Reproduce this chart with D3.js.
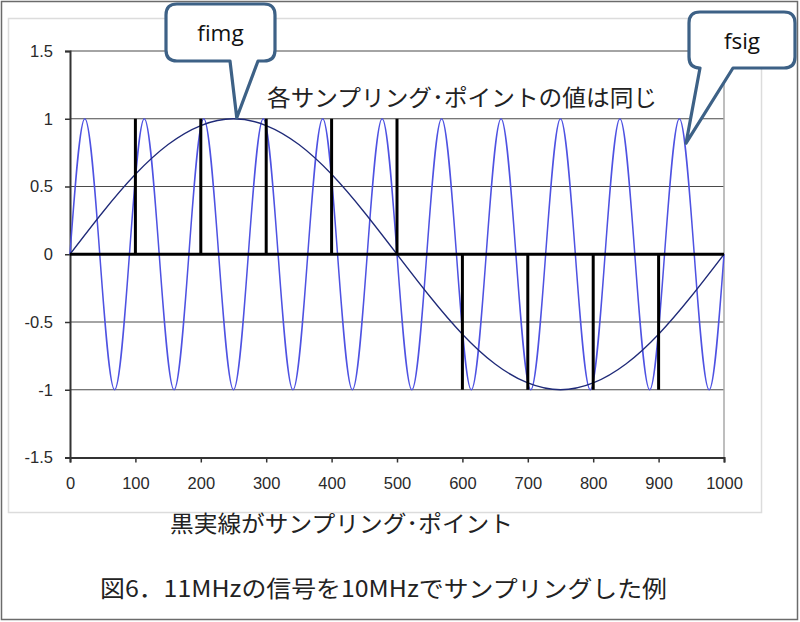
<!DOCTYPE html>
<html>
<head>
<meta charset="utf-8">
<script src="https://cdn.jsdelivr.net/npm/d3@7"></script>
<style>
  body { margin: 0; background: #fff; }
  svg { display: block; }
</style>
</head>
<body>
<div id="chart"></div>
<script>
// values
const yTicks = [-1.5, -1, -0.5, 0, 0.5, 1, 1.5];
const xTicks = [0, 100, 200, 300, 400, 500, 600, 700, 800, 900, 1000];

// fimg: slow wave, one cycle over 0..1000
const fimgX = [0, 50, 100, 150, 200, 250, 300, 350, 400, 450, 500, 550, 600, 650, 700, 750, 800, 850, 900, 950, 1000];
const fimgY = [0, 0.31, 0.59, 0.81, 0.95, 1, 0.95, 0.81, 0.59, 0.31, 0, -0.31, -0.59, -0.81, -0.95, -1, -0.95, -0.81, -0.59, -0.31, 0];

// fsig: peaks, troughs and zero crossings
const fsigX = [0, 22.7, 45.5, 68.2, 90.9, 113.6, 136.4, 159.1, 181.8, 204.5, 227.3, 250, 272.7, 295.5, 318.2,
  340.9, 363.6, 386.4, 409.1, 431.8, 454.5, 477.3, 500, 522.7, 545.5, 568.2, 590.9, 613.6, 636.4, 659.1,
  681.8, 704.5, 727.3, 750, 772.7, 795.5, 818.2, 840.9, 863.6, 886.4, 909.1, 931.8, 954.5, 977.3, 1000];
const fsigY = [0, 1, 0, -1, 0, 1, 0, -1, 0, 1, 0, -1, 0, 1, 0, -1, 0, 1, 0, -1, 0, 1, 0,
  -1, 0, 1, 0, -1, 0, 1, 0, -1, 0, 1, 0, -1, 0, 1, 0, -1, 0, 1, 0, -1, 0];

// sampling points (black bars)
const sampleX = [100, 200, 300, 400, 500, 600, 700, 800, 900];
const sampleY = [1, 1, 1, 1, 1, -1, -1, -1, -1];

const width = 800, height = 622;
const svg = d3.select("#chart").append("svg")
    .attr("width", width)
    .attr("height", height);

// outer frame + inner chart frame
svg.append("rect").attr("x", 1.5).attr("y", 1.5).attr("width", 796).attr("height", 618)
    .attr("fill", "#fff").attr("stroke", "#6b6b6b").attr("stroke-width", 1.5);
svg.append("rect").attr("x", 8.5).attr("y", 18.5).attr("width", 753).attr("height", 494)
    .attr("fill", "#fff").attr("stroke", "#dcdcdc").attr("stroke-width", 1.5);

const x = d3.scaleLinear().domain([0, 1000]).range([70, 724]);
const y = d3.scaleLinear().domain([-1.5, 1.5]).range([457.5, 51]);

// grid lines
svg.append("g").selectAll("line")
    .data(yTicks)
    .enter().append("line")
    .attr("x1", x(0)).attr("x2", x(1000))
    .attr("y1", d => y(d)).attr("y2", d => y(d))
    .attr("stroke", "#4a4a4a").attr("stroke-width", 1.2);

svg.append("line")
    .attr("x1", x(1000)).attr("x2", x(1000))
    .attr("y1", y(1.5)).attr("y2", y(-1.5))
    .attr("stroke", "#a8a8a8").attr("stroke-width", 1.5);

// axes
const yAxis = svg.append("g")
    .attr("transform", `translate(${x(0)},0)`)
    .call(d3.axisLeft(y).tickValues(yTicks).tickFormat(d => String(d)).tickSize(5).tickPadding(12));
const xAxis = svg.append("g")
    .attr("transform", `translate(0,${y(-1.5)})`)
    .call(d3.axisBottom(x).tickValues(xTicks).tickFormat(d => String(d)).tickSize(5).tickPadding(15));

[yAxis, xAxis].forEach(g => {
  g.attr("font-family", null).attr("font-size", null);
  g.select(".domain").attr("stroke", "#333").attr("stroke-width", 2);
  g.selectAll(".tick line").attr("stroke", "#333").attr("stroke-width", 1.5);
  g.selectAll(".tick text")
      .attr("fill", "#2a2a2a")
      .style("font-family", "'Liberation Sans', Arial, sans-serif")
      .style("font-size", "16.5px");
});
xAxis.selectAll(".tick line").attr("y1", 0);

// curves
const line = d3.line().x(d => x(d[0])).y(d => y(d[1])).curve(d3.curveNatural);

svg.append("path")
    .datum(d3.zip(fsigX, fsigY))
    .attr("d", line)
    .attr("fill", "none")
    .attr("stroke", "#4e52e2")
    .attr("stroke-width", 1.5);

svg.append("path")
    .datum(d3.zip(fimgX, fimgY))
    .attr("d", line)
    .attr("fill", "none")
    .attr("stroke", "#1f2a78")
    .attr("stroke-width", 1.3);

// zero line + sampling bars
svg.append("line")
    .attr("x1", x(0)).attr("x2", x(1000))
    .attr("y1", y(0)).attr("y2", y(0))
    .attr("stroke", "#000").attr("stroke-width", 3);

svg.append("g").selectAll("line")
    .data(d3.zip(sampleX, sampleY))
    .enter().append("line")
    .attr("x1", d => x(d[0])).attr("x2", d => x(d[0]))
    .attr("y1", y(0)).attr("y2", d => y(d[1]))
    .attr("stroke", "#000").attr("stroke-width", 3);

// callouts
function callout(left, top, right, bottom, baseL, baseR, tipX, tipY, label) {
  const r = 11;
  const p = d3.path();
  p.moveTo(left + r, top);
  p.lineTo(right - r, top);
  p.quadraticCurveTo(right, top, right, top + r);
  p.lineTo(right, bottom - r);
  p.quadraticCurveTo(right, bottom, right - r, bottom);
  p.lineTo(baseR, bottom);
  p.lineTo(tipX, tipY);
  p.lineTo(baseL, bottom);
  p.lineTo(left + r, bottom);
  p.quadraticCurveTo(left, bottom, left, bottom - r);
  p.lineTo(left, top + r);
  p.quadraticCurveTo(left, top, left + r, top);
  p.closePath();
  svg.append("path").attr("d", p.toString())
      .attr("fill", "#fff").attr("stroke", "#3d6186").attr("stroke-width", 3.2)
      .attr("stroke-linejoin", "round");
  svg.append("text")
      .attr("x", (left + right) / 2).attr("y", (top + bottom) / 2)
      .attr("text-anchor", "middle").attr("dominant-baseline", "central")
      .style("font-family", "'Open Sans', sans-serif")
      .style("font-variant-ligatures", "none")
      .style("font-size", "22.5px")
      .attr("fill", "#111")
      .text(label);
}
callout(166, 4, 275, 61, 230, 258, x(255), y(1) - 1, "fimg");
callout(689, 12, 795, 68, 700, 733, x(942), y(0.82), "fsig");

// annotations
const jp = "'Noto Sans CJK JP', sans-serif";
function note(x0, x1, yc, txt) {
  svg.append("text").attr("x", x0).attr("y", yc)
      .attr("dominant-baseline", "central")
      .attr("textLength", x1 - x0).attr("lengthAdjust", "spacingAndGlyphs")
      .style("font-family", jp).style("font-size", "23px").attr("fill", "#222")
      .text(txt);
}
note(267, 657, 96, "各サンプリング･ポイントの値は同じ");
note(170, 513, 522, "黒実線がサンプリング･ポイント");
note(100, 667, 587, "図6．11MHzの信号を10MHzでサンプリングした例");
</script>
</body>
</html>
